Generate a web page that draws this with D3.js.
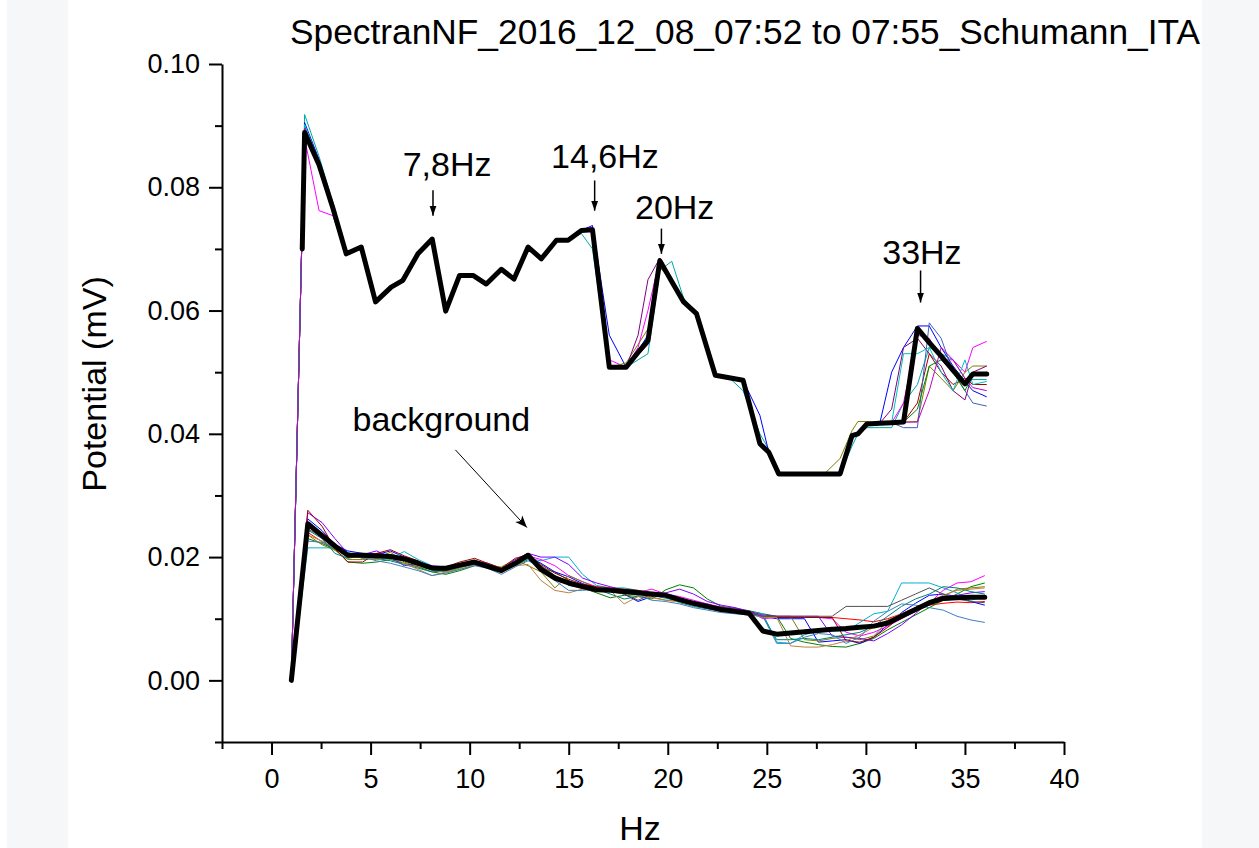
<!DOCTYPE html>
<meta charset="utf-8">
<style>
body { margin: 0; background: #fff; }
svg { display: block; font-family: "Liberation Sans", Arial, sans-serif; }
.axis path, .axis line { stroke: #000; stroke-width: 2px; }
.axis text { font-size: 27px; fill: #000; font-family: "Liberation Sans", Arial, sans-serif; }
.thin { fill: none; stroke-width: 1px; }
.mean { fill: none; stroke: #000; stroke-width: 5px; stroke-linejoin: round; stroke-linecap: round; }
.lbl { font-size: 34px; fill: #000; }
</style>
<svg width="1259" height="848"></svg>
<script src="https://cdn.jsdelivr.net/npm/d3@7"></script>
<script>

// ---- data: Schumann run, upper band (signal) ----
var hzUp = [1.0, 1.55, 1.67, 2.4, 3.1, 3.77, 4.53, 5.25, 6.04, 6.63,
  7.39, 8.11, 8.79, 9.49, 10.17, 10.84, 11.6, 12.24, 12.95, 13.62,
  14.38, 14.97, 15.64, 16.2, 17.05, 17.9, 18.5, 19.0, 19.6, 20.2,
  20.8, 21.45, 22.4, 23.1, 23.8, 24.65, 25.1, 25.6, 26.4, 27.1,
  27.9, 28.7, 29.3, 29.6, 30.05, 30.7, 31.3, 31.9, 32.6, 33.2,
  33.8, 34.4, 35.0, 35.4, 36.1];

var meanUp = [null, .0700, .0889, .0836, .0766, .0692, .0703, .0614, .0638, .0649,
  .0692, .0716, .0599, .0657, .0657, .0643, .0667, .0651, .0703, .0684,
  .0714, .0714, .0730, .0731, .0508, .0508, .0532, .0551, .0681, .0647,
  .0614, .0595, .0495, .0491, .0487, .0384, .0370, .0335, .0335, .0335,
  .0335, .0335, .0397, .0400, .0416, .0417, .0418, .0419, .0571, .0548,
  .0526, .0503, .0481, .0497, .0497];

var up1 = [0, .0740, .0918, .0850, .0775, .0695, .0703, .0614, .0638, .0649,
  .0692, .0716, .0599, .0657, .0657, .0643, .0667, .0651, .0703, .0684,
  .0714, .0714, .0725, .0700, .0508, .0508, .0520, .0530, .0665, .0680,
  .0620, .0597, .0497, .0491, .0470, .0400, .0375, .0335, .0335, .0335,
  .0335, .0335, .0380, .0400, .0410, .0410, .0410, .0450, .0480, .0540,
  .0530, .0520, .0490, .0488, .0488];
var up2 = [0, .0740, .0880, .0762, .0754, .0690, .0700, .0614, .0638, .0649,
  .0692, .0716, .0599, .0657, .0657, .0643, .0667, .0651, .0703, .0684,
  .0714, .0714, .0732, .0735, .0520, .0508, .0540, .0600, .0685, .0650,
  .0614, .0595, .0495, .0491, .0487, .0384, .0370, .0335, .0335, .0335,
  .0335, .0335, .0397, .0400, .0416, .0417, .0418, .0450, .0560, .0555,
  .0520, .0520, .0500, .0540, .0550];
var up3 = [0, .0740, .0905, .0845, .0772, .0694, .0703, .0614, .0638, .0649,
  .0692, .0716, .0599, .0657, .0657, .0643, .0667, .0651, .0703, .0684,
  .0714, .0714, .0730, .0738, .0560, .0508, .0535, .0560, .0675, .0650,
  .0614, .0595, .0495, .0491, .0487, .0430, .0370, .0335, .0335, .0335,
  .0335, .0335, .0397, .0400, .0416, .0417, .0500, .0540, .0575, .0575,
  .0540, .0510, .0485, .0470, .0460];
var up4 = [0, .0740, .0900, .0840, .0770, .0692, .0703, .0614, .0638, .0649,
  .0692, .0716, .0599, .0657, .0657, .0643, .0667, .0651, .0703, .0684,
  .0714, .0714, .0730, .0731, .0508, .0515, .0545, .0570, .0670, .0648,
  .0614, .0595, .0495, .0491, .0487, .0384, .0370, .0335, .0335, .0335,
  .0335, .0360, .0405, .0420, .0420, .0417, .0418, .0419, .0420, .0510,
  .0490, .0470, .0500, .0510, .0510];
var up5 = [0, .0740, .0895, .0838, .0768, .0692, .0703, .0614, .0638, .0649,
  .0692, .0716, .0599, .0657, .0657, .0643, .0667, .0651, .0703, .0684,
  .0714, .0714, .0730, .0731, .0508, .0508, .0560, .0650, .0685, .0650,
  .0614, .0595, .0495, .0491, .0487, .0384, .0370, .0335, .0335, .0335,
  .0335, .0335, .0397, .0400, .0416, .0417, .0440, .0540, .0555, .0530,
  .0510, .0470, .0455, .0500, .0510];
var up6 = [0, .0740, .0892, .0836, .0766, .0692, .0703, .0614, .0638, .0649,
  .0692, .0716, .0599, .0657, .0657, .0643, .0667, .0651, .0703, .0684,
  .0714, .0714, .0730, .0731, .0508, .0508, .0528, .0545, .0678, .0647,
  .0614, .0595, .0495, .0491, .0487, .0384, .0370, .0335, .0335, .0335,
  .0335, .0335, .0397, .0400, .0416, .0417, .0418, .0419, .0450, .0530,
  .0500, .0480, .0490, .0480, .0480];
var up7 = [0, .0740, .0900, .0842, .0770, .0692, .0703, .0614, .0638, .0649,
  .0692, .0716, .0599, .0657, .0657, .0643, .0667, .0651, .0703, .0684,
  .0714, .0714, .0730, .0731, .0508, .0508, .0532, .0551, .0681, .0647,
  .0614, .0595, .0495, .0491, .0487, .0384, .0370, .0335, .0335, .0335,
  .0335, .0335, .0397, .0400, .0416, .0417, .0418, .0410, .0410, .0580,
  .0555, .0500, .0470, .0450, .0445];
var up8 = [0, .0740, .0898, .0838, .0768, .0692, .0703, .0614, .0638, .0649,
  .0692, .0716, .0599, .0657, .0657, .0643, .0667, .0651, .0703, .0684,
  .0714, .0714, .0730, .0731, .0508, .0508, .0532, .0551, .0681, .0647,
  .0614, .0595, .0495, .0491, .0487, .0384, .0370, .0335, .0335, .0335,
  .0335, .0335, .0397, .0400, .0416, .0417, .0418, .0419, .0440, .0510,
  .0520, .0500, .0470, .0495, .0500];
var up9 = [0, .0740, .0902, .0840, .0770, .0692, .0703, .0614, .0638, .0649,
  .0692, .0716, .0599, .0657, .0657, .0643, .0667, .0651, .0703, .0684,
  .0714, .0714, .0730, .0731, .0508, .0508, .0532, .0551, .0681, .0647,
  .0614, .0595, .0495, .0491, .0487, .0384, .0370, .0335, .0335, .0335,
  .0335, .0335, .0397, .0400, .0416, .0417, .0418, .0530, .0530, .0540,
  .0500, .0470, .0520, .0480, .0485];
var up10 = [0, .0740, .0896, .0838, .0768, .0692, .0703, .0614, .0638, .0649,
  .0692, .0716, .0599, .0657, .0657, .0643, .0667, .0651, .0703, .0684,
  .0714, .0714, .0730, .0731, .0508, .0508, .0532, .0551, .0681, .0647,
  .0614, .0595, .0495, .0491, .0487, .0384, .0370, .0335, .0335, .0335,
  .0335, .0335, .0397, .0400, .0416, .0417, .0418, .0419, .0419, .0470,
  .0540, .0520, .0490, .0475, .0470];

// ---- data: background band ----
var hzBg = [1.0, 1.83, 2.55, 3.2, 3.85, 4.6, 5.3, 6.0, 6.7, 7.4,
  8.1, 8.8, 9.5, 10.25, 10.9, 11.6, 12.3, 12.95, 13.6, 14.3,
  15.0, 15.7, 16.4, 17.1, 17.8, 18.5, 19.2, 19.9, 20.6, 21.3,
  22.0, 22.7, 23.4, 24.1, 24.8, 25.5, 26.2, 26.9, 27.6, 28.3,
  29.0, 29.7, 30.4, 31.1, 31.8, 32.5, 33.2, 33.9, 34.6, 35.3, 36.0];

var meanBg = [0, .0254, .0235, .0218, .0203, .0203, .0202, .0201, .0197, .0190,
  .0182, .0182, .0187, .0192, .0185, .0178, .0190, .0203, .0180, .0166,
  .0158, .0152, .0147, .0146, .0144, .0142, .0140, .0138, .0131, .0125,
  .0120, .0115, .0112, .0109, .0080, .0075, .0077, .0079, .0081, .0083,
  .0084, .0086, .0088, .0093, .0104, .0115, .0126, .0133, .0134, .0135, .0135];

var bg1 = [0, .0240, .0225, .0212, .0205, .0198, .0200, .0204, .0195, .0188,
  .0180, .0178, .0186, .0194, .0187, .0180, .0193, .0200, .0185, .0170,
  .0160, .0150, .0150, .0148, .0147, .0140, .0142, .0136, .0133, .0127,
  .0122, .0118, .0114, .0110, .0104, .0102, .0102, .0102, .0102, .0102,
  .0100, .0098, .0095, .0100, .0108, .0118, .0122, .0125, .0127, .0126, .0128];
var bg2 = [0, .0230, .0222, .0213, .0192, .0190, .0192, .0196, .0190, .0184,
  .0176, .0172, .0178, .0186, .0190, .0182, .0186, .0196, .0182, .0176,
  .0162, .0150, .0142, .0134, .0138, .0136, .0132, .0147, .0155, .0150,
  .0132, .0120, .0117, .0113, .0108, .0104, .0068, .0062, .0058, .0055,
  .0054, .0060, .0068, .0082, .0094, .0106, .0118, .0130, .0140, .0152, .0158];
var bg3 = [0, .0262, .0243, .0220, .0210, .0206, .0204, .0210, .0200, .0190,
  .0180, .0182, .0188, .0190, .0186, .0180, .0192, .0201, .0190, .0176,
  .0168, .0157, .0150, .0146, .0140, .0128, .0136, .0140, .0130, .0128,
  .0124, .0117, .0113, .0110, .0104, .0100, .0100, .0100, .0062, .0064,
  .0066, .0060, .0070, .0090, .0110, .0125, .0138, .0140, .0136, .0128, .0122];
var bg4 = [0, .0215, .0215, .0215, .0208, .0198, .0196, .0198, .0209, .0196,
  .0186, .0176, .0184, .0190, .0188, .0176, .0188, .0198, .0194, .0200,
  .0200, .0172, .0154, .0150, .0150, .0146, .0138, .0133, .0128, .0122,
  .0118, .0112, .0114, .0111, .0108, .0062, .0060, .0074, .0080, .0080,
  .0080, .0094, .0108, .0112, .0158, .0158, .0158, .0150, .0142, .0130, .0136];
var bg5 = [0, .0250, .0238, .0216, .0200, .0204, .0206, .0202, .0196, .0186,
  .0184, .0180, .0184, .0188, .0183, .0182, .0188, .0202, .0196, .0186,
  .0170, .0160, .0152, .0145, .0142, .0143, .0148, .0140, .0136, .0130,
  .0124, .0119, .0116, .0112, .0100, .0102, .0102, .0102, .0102, .0100,
  .0078, .0072, .0078, .0088, .0100, .0112, .0125, .0146, .0158, .0160, .0170];
var bg6 = [0, .0236, .0220, .0211, .0196, .0196, .0198, .0208, .0192, .0184,
  .0180, .0176, .0182, .0190, .0185, .0184, .0196, .0186, .0176, .0150,
  .0170, .0160, .0150, .0148, .0140, .0140, .0135, .0130, .0128, .0124,
  .0122, .0118, .0115, .0110, .0104, .0104, .0104, .0066, .0064, .0068,
  .0070, .0066, .0072, .0096, .0104, .0112, .0124, .0136, .0148, .0150, .0152];
var bg7 = [0, .0272, .0256, .0230, .0206, .0204, .0210, .0200, .0186, .0190,
  .0186, .0184, .0188, .0194, .0190, .0180, .0196, .0206, .0200, .0200,
  .0188, .0166, .0158, .0152, .0146, .0144, .0140, .0142, .0148, .0140,
  .0128, .0122, .0118, .0112, .0106, .0104, .0104, .0104, .0104, .0072,
  .0070, .0068, .0064, .0076, .0090, .0108, .0128, .0136, .0138, .0142, .0144];
var bg8 = [0, .0276, .0250, .0214, .0192, .0192, .0206, .0212, .0202, .0194,
  .0182, .0184, .0192, .0198, .0190, .0182, .0198, .0204, .0188, .0174,
  .0164, .0156, .0152, .0150, .0148, .0146, .0142, .0138, .0134, .0126,
  .0120, .0116, .0114, .0111, .0102, .0102, .0102, .0102, .0102, .0102,
  .0064, .0062, .0070, .0086, .0104, .0112, .0122, .0130, .0132, .0134, .0138];
var bg9 = [0, .0244, .0230, .0206, .0198, .0202, .0198, .0194, .0188, .0182,
  .0176, .0178, .0184, .0188, .0186, .0178, .0188, .0198, .0186, .0170,
  .0154, .0150, .0148, .0140, .0132, .0136, .0138, .0136, .0126, .0120,
  .0116, .0112, .0110, .0106, .0104, .0066, .0066, .0068, .0066, .0070,
  .0074, .0078, .0088, .0104, .0120, .0132, .0140, .0152, .0150, .0144, .0140];
var bg10 = [0, .0236, .0226, .0214, .0200, .0200, .0196, .0200, .0190, .0180,
  .0170, .0176, .0180, .0188, .0184, .0178, .0186, .0188, .0162, .0146,
  .0142, .0148, .0146, .0146, .0124, .0136, .0134, .0130, .0128, .0122,
  .0118, .0114, .0112, .0108, .0102, .0102, .0056, .0054, .0054, .0058,
  .0064, .0074, .0086, .0098, .0108, .0118, .0128, .0138, .0146, .0148, .0150];
var bg11 = [0, .0226, .0224, .0216, .0204, .0200, .0194, .0190, .0184, .0178,
  .0170, .0174, .0180, .0186, .0182, .0172, .0184, .0194, .0184, .0162,
  .0146, .0146, .0148, .0146, .0142, .0138, .0130, .0128, .0124, .0118,
  .0114, .0110, .0108, .0106, .0104, .0060, .0060, .0070, .0076, .0074,
  .0060, .0070, .0096, .0112, .0124, .0122, .0118, .0114, .0104, .0098, .0094];
var bg12 = [0, .0246, .0232, .0218, .0204, .0200, .0200, .0202, .0196, .0188,
  .0180, .0180, .0186, .0190, .0186, .0180, .0190, .0200, .0186, .0170,
  .0160, .0152, .0148, .0144, .0140, .0130, .0140, .0138, .0132, .0126,
  .0120, .0116, .0114, .0110, .0104, .0104, .0104, .0104, .0104, .0104,
  .0120, .0120, .0120, .0120, .0130, .0140, .0150, .0140, .0132, .0128, .0126];

var upTraces = [up1, up2, up3, up4, up5, up6, up7, up8, up9, up10];
var upColors = ["#00a8a8", "#ff00ff", "#0000ff", "#808000", "#800080", "#a00000",
                "#4060c0", "#008000", "#00c0c0", "#c000c0"];
var bgTraces = [bg1, bg2, bg3, bg4, bg5, bg6, bg7, bg8, bg9, bg10, bg11, bg12];
var bgColors = ["#ff0000", "#008000", "#0000ff", "#00b0d0", "#ff00ff", "#808000",
                "#8000ff", "#a00000", "#008080", "#c08040", "#4080c0", "#505050"];

// axis ticks
var xMajor = [0, 5, 10, 15, 20, 25, 30, 35, 40];
var xMinor = [-2.5, 2.5, 7.5, 12.5, 17.5, 22.5, 27.5, 32.5, 37.5];
var yMajor = [0, 0.02, 0.04, 0.06, 0.08, 0.10];
var yMinor = [-0.01, 0.01, 0.03, 0.05, 0.07, 0.09];

// peak annotations (Hz / mV)
var peakLabels = ["7,8Hz", "14,6Hz", "20Hz", "33Hz"];
var peakArrowHz = [8.15, 16.31, 19.68, 32.76];
var peakArrowTop = [0.0795, 0.0811, 0.0733, 0.0665];
var peakArrowEnd = [0.0754, 0.0762, 0.0692, 0.0613];
var peakTextHz = [8.86, 16.83, 20.35, 32.83];
var peakTextMv = [0.0819, 0.0832, 0.0749, 0.0676];

var svg = d3.select("svg"),
    width = +svg.attr("width"),
    height = +svg.attr("height");

// grey page strips left & right
svg.append("rect").attr("x", 7).attr("y", 0).attr("width", 61).attr("height", height).attr("fill", "#f6f7f9");
svg.append("rect").attr("x", 1202).attr("y", 0).attr("width", 57).attr("height", height).attr("fill", "#f6f7f9");

var x = d3.scaleLinear().domain([-2.5, 40]).range([222, 1064]);
var y = d3.scaleLinear().domain([-0.01, 0.10]).range([742, 64]);

var defs = svg.append("defs");
defs.append("marker")
    .attr("id", "head")
    .attr("viewBox", "0 0 10 10")
    .attr("refX", 10).attr("refY", 5)
    .attr("markerWidth", 10).attr("markerHeight", 12)
    .attr("markerUnits", "userSpaceOnUse")
    .attr("orient", "auto")
  .append("path").attr("d", "M0,1.5L10,5L0,8.5Z").attr("fill", "#000");
defs.append("marker")
    .attr("id", "head2")
    .attr("viewBox", "0 0 10 10")
    .attr("refX", 10).attr("refY", 5)
    .attr("markerWidth", 16).attr("markerHeight", 12)
    .attr("markerUnits", "userSpaceOnUse")
    .attr("orient", "auto")
  .append("path").attr("d", "M0,1L10,5L0,9L2.5,5Z").attr("fill", "#000");

function lineFor(hz) {
  return d3.line()
    .defined(function(d) { return d != null; })
    .x(function(d, i) { return x(hz[i]); })
    .y(function(d) { return y(d); });
}

var plot = svg.append("g");

// thin individual sweeps
plot.append("g").selectAll("path")
  .data(bgTraces).enter().append("path")
    .attr("class", "thin")
    .attr("stroke", function(d, i) { return bgColors[i]; })
    .attr("d", lineFor(hzBg));
plot.append("g").selectAll("path")
  .data(upTraces).enter().append("path")
    .attr("class", "thin")
    .attr("stroke", function(d, i) { return upColors[i]; })
    .attr("d", lineFor(hzUp));

// averaged curves
plot.append("path").attr("class", "mean").attr("d", lineFor(hzBg)(meanBg));
plot.append("path").attr("class", "mean").attr("d", lineFor(hzUp)(meanUp));

// axes
var xAxis = svg.append("g").attr("class", "axis").attr("transform", "translate(0," + y(-0.01) + ")");
xAxis.call(d3.axisBottom(x).tickValues(xMajor).tickSize(13).tickSizeOuter(0).tickPadding(14).tickFormat(d3.format("d")));
svg.append("g").attr("class", "axis").attr("transform", "translate(0," + y(-0.01) + ")")
  .call(d3.axisBottom(x).tickValues(xMinor).tickSize(7).tickSizeOuter(0).tickFormat(""))
  .select(".domain").remove();

var yAxis = svg.append("g").attr("class", "axis").attr("transform", "translate(" + x(-2.5) + ",0)");
yAxis.call(d3.axisLeft(y).tickValues(yMajor).tickSize(13).tickSizeOuter(0).tickPadding(9).tickFormat(d3.format(".2f")));
svg.append("g").attr("class", "axis").attr("transform", "translate(" + x(-2.5) + ",0)")
  .call(d3.axisLeft(y).tickValues(yMinor).tickSize(7).tickSizeOuter(0).tickFormat(""))
  .select(".domain").remove();

// axis titles
svg.append("text").attr("class", "lbl")
    .attr("text-anchor", "middle")
    .attr("transform", "translate(106,384) rotate(-90)")
    .text("Potential (mV)");
svg.append("text").attr("class", "lbl")
    .attr("text-anchor", "middle")
    .attr("x", x(18.6)).attr("y", 840)
    .text("Hz");

// title
svg.append("text").attr("class", "lbl")
    .attr("text-anchor", "middle")
    .style("font-size", "35.3px")
    .attr("x", 745).attr("y", 44)
    .text("SpectranNF_2016_12_08_07:52 to 07:55_Schumann_ITA");

// peak annotations
var ann = svg.append("g");
peakLabels.forEach(function(t, i) {
  ann.append("text").attr("class", "lbl")
      .attr("text-anchor", "middle")
      .attr("x", x(peakTextHz[i])).attr("y", y(peakTextMv[i]))
      .text(t);
  ann.append("line")
      .attr("x1", x(peakArrowHz[i])).attr("x2", x(peakArrowHz[i]))
      .attr("y1", y(peakArrowTop[i])).attr("y2", y(peakArrowEnd[i]))
      .attr("stroke", "#000").attr("stroke-width", 1.5)
      .attr("marker-end", "url(#head)");
});

// background label
ann.append("text").attr("class", "lbl")
    .attr("text-anchor", "middle")
    .attr("x", x(8.57)).attr("y", y(0.0405))
    .text("background");
ann.append("line")
    .attr("x1", x(9.28)).attr("y1", y(0.0374))
    .attr("x2", x(12.89)).attr("y2", y(0.0248))
    .attr("stroke", "#000").attr("stroke-width", 1)
    .attr("marker-end", "url(#head2)");

</script>
